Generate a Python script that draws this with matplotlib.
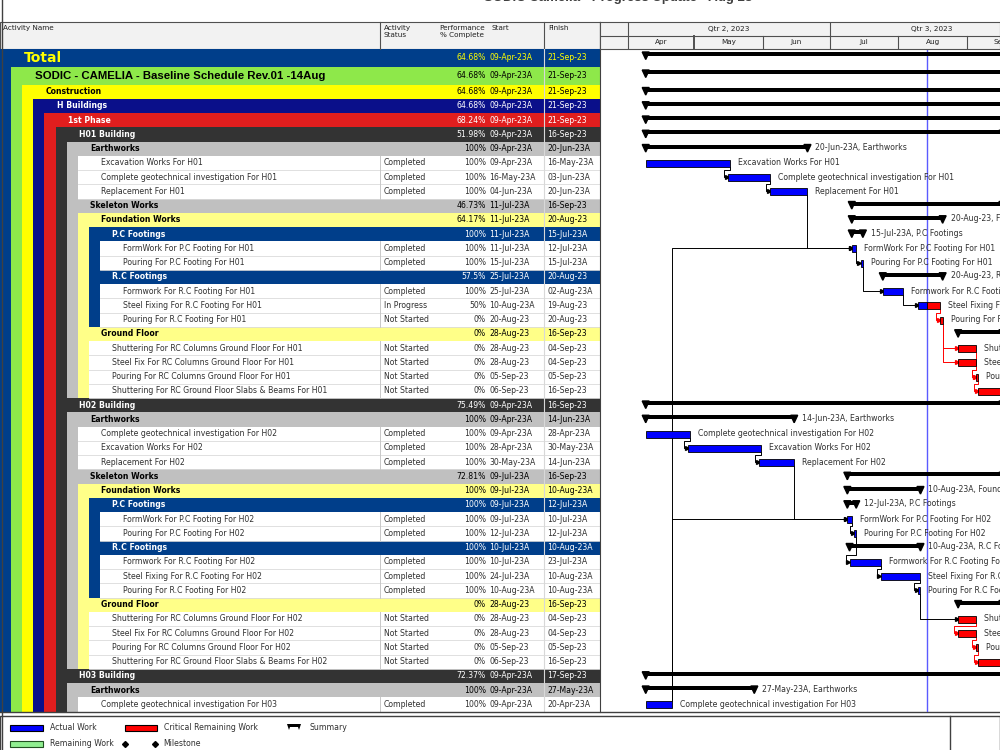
import datetime as dt
import matplotlib
matplotlib.use("Agg")
import matplotlib.pyplot as plt
import matplotlib.dates as mdates
from matplotlib.patches import Rectangle, Polygon

NARROW = ["Liberation Sans Narrow", "DejaVu Sans"]
plt.rcParams["font.family"] = NARROW
FS = 5.6  # body text size

# ---- schedule rows as printed by P6 ----
names = [
    "Total",
    "SODIC - CAMELIA - Baseline Schedule Rev.01 -14Aug",
    "Construction",
    "H Buildings",
    "1st Phase",
    "H01 Building",
    "Earthworks",
    "Excavation Works For H01",
    "Complete geotechnical investigation For H01",
    "Replacement For H01",
    "Skeleton Works",
    "Foundation Works",
    "P.C Footings",
    "FormWork For P.C Footing For H01",
    "Pouring For P.C Footing For H01",
    "R.C Footings",
    "Formwork For R.C Footing For H01",
    "Steel Fixing For R.C Footing For H01",
    "Pouring For R.C Footing For H01",
    "Ground Floor",
    "Shuttering For RC Columns Ground Floor For H01",
    "Steel Fix For RC Columns Ground Floor For H01",
    "Pouring For RC Columns Ground Floor For H01",
    "Shuttering For RC Ground Floor Slabs & Beams For H01",
    "H02 Building",
    "Earthworks",
    "Complete geotechnical investigation For H02",
    "Excavation Works For H02",
    "Replacement For H02",
    "Skeleton Works",
    "Foundation Works",
    "P.C Footings",
    "FormWork For P.C Footing For H02",
    "Pouring For P.C Footing For H02",
    "R.C Footings",
    "Formwork For R.C Footing For H02",
    "Steel Fixing For R.C Footing For H02",
    "Pouring For R.C Footing For H02",
    "Ground Floor",
    "Shuttering For RC Columns Ground Floor For H02",
    "Steel Fix For RC Columns Ground Floor For H02",
    "Pouring For RC Columns Ground Floor For H02",
    "Shuttering For RC Ground Floor Slabs & Beams For H02",
    "H03 Building",
    "Earthworks",
    "Complete geotechnical investigation For H03",
]
levels = [0, 1, 2, 3, 4, 5, 6, 7, 7, 7, 6, 7, 8, 9, 9, 8, 9, 9, 9, 7, 8, 8, 8, 8,
          5, 6, 7, 7, 7, 6, 7, 8, 9, 9, 8, 9, 9, 9, 7, 8, 8, 8, 8,
          5, 6, 7]
status = ["", "", "", "", "", "", "",
          "Completed", "Completed", "Completed", "", "", "",
          "Completed", "Completed", "",
          "Completed", "In Progress", "Not Started", "",
          "Not Started", "Not Started", "Not Started", "Not Started",
          "", "", "Completed", "Completed", "Completed", "", "", "",
          "Completed", "Completed", "",
          "Completed", "Completed", "Completed", "",
          "Not Started", "Not Started", "Not Started", "Not Started",
          "", "", "Completed"]
pct = ["64.68%", "64.68%", "64.68%", "64.68%", "68.24%", "51.98%",
       "100%", "100%", "100%", "100%", "46.73%", "64.17%",
       "100%", "100%", "100%", "57.5%", "100%", "50%", "0%",
       "0%", "0%", "0%", "0%", "0%",
       "75.49%", "100%", "100%", "100%", "100%", "72.81%",
       "100%", "100%", "100%", "100%", "100%", "100%", "100%", "100%",
       "0%", "0%", "0%", "0%", "0%",
       "72.37%", "100%", "100%"]
starts = ["09-Apr-23A", "09-Apr-23A", "09-Apr-23A", "09-Apr-23A", "09-Apr-23A",
          "09-Apr-23A", "09-Apr-23A", "09-Apr-23A", "16-May-23A", "04-Jun-23A",
          "11-Jul-23A", "11-Jul-23A", "11-Jul-23A", "11-Jul-23A", "15-Jul-23A",
          "25-Jul-23A", "25-Jul-23A", "10-Aug-23A", "20-Aug-23", "28-Aug-23",
          "28-Aug-23", "28-Aug-23", "05-Sep-23", "06-Sep-23",
          "09-Apr-23A", "09-Apr-23A", "09-Apr-23A", "28-Apr-23A", "30-May-23A",
          "09-Jul-23A", "09-Jul-23A", "09-Jul-23A", "09-Jul-23A", "12-Jul-23A",
          "10-Jul-23A", "10-Jul-23A", "24-Jul-23A", "10-Aug-23A", "28-Aug-23",
          "28-Aug-23", "28-Aug-23", "05-Sep-23", "06-Sep-23",
          "09-Apr-23A", "09-Apr-23A", "09-Apr-23A"]
finishes = ["21-Sep-23", "21-Sep-23", "21-Sep-23", "21-Sep-23", "21-Sep-23",
            "16-Sep-23", "20-Jun-23A", "16-May-23A", "03-Jun-23A", "20-Jun-23A",
            "16-Sep-23", "20-Aug-23", "15-Jul-23A", "12-Jul-23A", "15-Jul-23A",
            "20-Aug-23", "02-Aug-23A", "19-Aug-23", "20-Aug-23", "16-Sep-23",
            "04-Sep-23", "04-Sep-23", "05-Sep-23", "16-Sep-23",
            "16-Sep-23", "14-Jun-23A", "28-Apr-23A", "30-May-23A", "14-Jun-23A",
            "16-Sep-23", "10-Aug-23A", "12-Jul-23A", "10-Jul-23A", "12-Jul-23A",
            "10-Aug-23A", "23-Jul-23A", "10-Aug-23A", "10-Aug-23A", "16-Sep-23",
            "04-Sep-23", "04-Sep-23", "05-Sep-23", "16-Sep-23",
            "17-Sep-23", "27-May-23A", "20-Apr-23A"]
# (predecessor row, successor row)
links = [(7, 8), (8, 9), (9, 13), (45, 13), (13, 14), (14, 16), (16, 17), (17, 18),
         (18, 20), (18, 21), (20, 22), (21, 22), (22, 23),
         (26, 27), (27, 28), (28, 32), (45, 32), (32, 33), (33, 35), (35, 36),
         (36, 37), (37, 39), (39, 40), (40, 41), (41, 42)]
data_date = dt.datetime(2023, 8, 14)
month_labels = ["Apr", "May", "Jun", "Jul", "Aug", "Sep"]
qtr_labels = ["Qtr 2, 2023", "Qtr 3, 2023"]

# WBS band colours (background, text) per level
band = {0: ("#003E8A", "#FFFF00"), 1: ("#8EE84A", "black"), 2: ("#FFFF00", "black"),
        3: ("#0A0F8A", "white"), 4: ("#E01E1E", "white"), 5: ("#333333", "white"),
        6: ("#C0C0C0", "black"), 7: ("#FFFF88", "black"), 8: ("#003E8A", "white")}


def parse(s):
    return mdates.date2num(dt.datetime.strptime(s.rstrip("A"), "%d-%b-%y"))


start_num = [parse(s) for s in starts]
end_num = [parse(s) + 1 for s in finishes]   # end of finish day
dd = mdates.date2num(data_date)

# ---- layout (pixels) ----
W = 11.1          # indent per WBS level
TABLE_R = 600
heights = [18, 17.5] + [14.25] * (len(names) - 2)
tops = []
y = 49
for h in heights:
    tops.append(y)
    y += h
BODY_B = y
centers = [t + h / 2 for t, h in zip(tops, heights)]

fig = plt.figure(figsize=(10, 7.5), dpi=100)
ax0 = fig.add_axes([0, 0, 1, 1])
ax0.set_xlim(0, 1000)
ax0.set_ylim(750, 0)
ax0.axis("off")

# title (cut off by the page top)
ax0.text(618, -1.5, "SODIC Camelia - Progress Update - Aug 23", ha="center", va="center",
         fontsize=9.5, weight="bold", color="#404040", family=["Liberation Sans", "DejaVu Sans"])
ax0.plot([1.5, 1.5], [0, 750], color="#404040", lw=1)

# table header
ax0.add_patch(Rectangle((0, 22), TABLE_R, 27, fc="#F2F2F2", ec="#505050", lw=0.8))
for xc in (380, 544):
    ax0.plot([xc, xc], [22, 49], color="#505050", lw=0.8)
hdr = dict(fontsize=5.2, va="top", color="#202020", linespacing=1.15)
ax0.text(3, 25, "Activity Name", **hdr)
ax0.text(384, 25, "Activity\nStatus", **hdr)
ax0.text(462, 25, "Performance\n% Complete", ha="center", **hdr)
ax0.text(491, 25, "Start", **hdr)
ax0.text(548, 25, "Finish", **hdr)

# table rows
for i, name in enumerate(names):
    L = levels[i]
    x0 = L * W
    top, h, yc = tops[i], heights[i], centers[i]
    task = status[i] != ""
    if task:
        bg, fg = "white", "#303030"
    else:
        bg, fg = band[L]
        # stripe down the left side of all children
        j = i + 1
        while j < len(names) and levels[j] > L:
            j += 1
        if j > i + 1:
            ax0.add_patch(Rectangle((x0, top + h), W, tops[j - 1] + heights[j - 1] - top - h,
                                    fc=bg, ec="none"))
    ax0.add_patch(Rectangle((x0, top), TABLE_R - x0, h, fc=bg, ec="none"))
    if task:
        ax0.plot([x0, TABLE_R], [top + h, top + h], color="#DADADA", lw=0.6)
        ax0.plot([380, 380], [top, top + h], color="#C8C8C8", lw=0.7)
        ax0.text(384, yc, status[i], fontsize=FS, va="center", color=fg)

    if i == 0:
        ax0.text(x0 + 24, yc, name, fontsize=10, weight="bold", va="center", color=fg)
    elif i == 1:
        ax0.text(x0 + 24, yc, name, fontsize=8.2, weight="bold", va="center", color=fg,
                 family=["Liberation Sans", "DejaVu Sans"])
    else:
        ax0.text(x0 + 23.5, yc, name, fontsize=FS, va="center", color=fg,
                 weight="normal" if task else "bold")
    ax0.text(486, yc, pct[i], fontsize=FS, va="center", ha="right", color=fg)
    ax0.text(489, yc, starts[i], fontsize=FS, va="center", color=fg)
    ax0.text(547, yc, finishes[i], fontsize=FS, va="center", color=fg)

ax0.plot([544, 544], [49, BODY_B], color="#D8D8D8", lw=0.8)
ax0.plot([0, 1000], [BODY_B, BODY_B], color="#404040", lw=1)
ax0.plot([TABLE_R, TABLE_R], [22, BODY_B], color="#404040", lw=0.8)

# legend strip
ax0.add_patch(Rectangle((0, 716), 1000, 36, fc="white", ec="#404040", lw=1))
ax0.plot([950, 950], [716, 750], color="#404040", lw=1)
lg = dict(fontsize=FS, va="center", color="#303030")
ax0.add_patch(Rectangle((10, 724.5), 33, 6, fc="#0000FF", ec="black", lw=0.8))
ax0.text(50, 728, "Actual Work", **lg)
ax0.add_patch(Rectangle((125, 724.5), 32, 6, fc="#FF0000", ec="black", lw=0.8))
ax0.text(164, 728, "Critical Remaining Work", **lg)
ax0.add_patch(Rectangle((288, 724), 12, 2.5, fc="black", ec="none"))
ax0.add_patch(Polygon([(287, 724), (291, 724), (289, 730)], fc="black"))
ax0.add_patch(Polygon([(297, 724), (301, 724), (299, 730)], fc="black"))
ax0.text(309, 728, "Summary", **lg)
ax0.add_patch(Rectangle((10, 741), 33, 6, fc="#90EE90", ec="#205020", lw=0.8))
ax0.text(50, 744, "Remaining Work", **lg)
ax0.plot([125, 155], [744, 744], ls="none", marker="D", ms=3, color="black")
ax0.text(163, 744, "Milestone", **lg)

# ---- gantt ----
px_day = (967 - 628) / (mdates.date2num(dt.datetime(2023, 9, 1)) - mdates.date2num(dt.datetime(2023, 4, 1)))
apr1 = mdates.date2num(dt.datetime(2023, 4, 1))
xmin = apr1 - (628 - TABLE_R) / px_day
xmax = apr1 + (1000 - 628) / px_day
dpp = 1 / px_day  # days per pixel

gx = fig.add_axes([TABLE_R / 1000, 1 - BODY_B / 750, 1 - TABLE_R / 1000, (BODY_B - 49) / 750])
gx.set_xlim(xmin, xmax)
gx.set_ylim(BODY_B, 49)
gx.axis("off")

gx.axvline(dd, color="#5A5AFF", lw=1, zorder=1)

for i, name in enumerate(names):
    s, e = start_num[i], end_num[i]
    top, yc = tops[i], centers[i]
    if status[i] == "":
        gx.barh(top + 5, e - s, left=s, height=4, color="black", zorder=3)
        for xe in (s, e):
            gx.fill([xe - 3.5 * dpp, xe + 3.5 * dpp, xe], [top + 3, top + 3, top + 10.5],
                    color="black", zorder=3)
        if i > 5:
            gx.text(e + 8 * dpp, top + 6, f"{finishes[i]}, {name}", fontsize=FS,
                    va="center", color="#303030", zorder=4)
    else:
        done_to = e if finishes[i].endswith("A") else (dd if starts[i].endswith("A") else s)
        if done_to > s:
            gx.barh(yc + 0.5, done_to - s, left=s, height=7, color="#0000FF",
                    edgecolor="black", lw=0.6, zorder=3)
        if done_to < e:
            gx.barh(yc + 0.5, e - done_to, left=done_to, height=7, color="#FF0000",
                    edgecolor="black", lw=0.6, zorder=3)
        gx.text(e + 8 * dpp, yc, name, fontsize=FS, va="center", color="#303030", zorder=4)

# relationship lines
for p, s in links:
    xf, xs = end_num[p], start_num[s]
    yp, ys = centers[p], centers[s]
    col = "black" if finishes[p].endswith("A") else "#FF0000"
    if xs >= xf + 3 * dpp:
        y0 = yp + 4 if ys > yp else yp - 3
        px_, py_ = [xf, xf, xs], [y0, ys, ys]
    else:
        ym = ys - 7
        xb = xs - 4 * dpp
        px_, py_ = [xf, xf, xb, xb, xs], [yp + 4, ym, ym, ys, ys]
    gx.plot(px_, py_, color=col, lw=0.7, zorder=2)
    gx.plot(xs - 1.2 * dpp, ys, marker=">", ms=2.8, color=col, zorder=2)

# timescale header, shares the gantt date axis
hx = fig.add_axes([TABLE_R / 1000, 1 - 49 / 750, 1 - TABLE_R / 1000, 27 / 750], sharex=gx)
hx.set_ylim(0, 2)
hx.set_facecolor("#F2F2F2")
for sp in hx.spines.values():
    sp.set_color("#505050")
    sp.set_linewidth(0.8)
hx.tick_params(left=False, bottom=False, labelleft=False, labelbottom=False)
hx.axhline(1, color="#505050", lw=0.8)
months = [dt.datetime(2023, m, 1) for m in range(3, 11)]
for k, m in enumerate(months):
    x = mdates.date2num(m)
    hx.plot([x, x], [0, 1], color="#505050", lw=1.4 if m.month == 5 else 0.8)
    if 1 <= k <= len(month_labels):
        xn = mdates.date2num(months[k + 1]) if k + 1 < len(months) else x + 30
        hx.text((x + xn) / 2, 0.5, month_labels[k - 1], ha="center", va="center",
                fontsize=5.2, color="#202020")
qtrs = [dt.datetime(2023, 1, 1), dt.datetime(2023, 4, 1), dt.datetime(2023, 7, 1), dt.datetime(2023, 10, 1)]
for k, q in enumerate(qtrs):
    x = mdates.date2num(q)
    hx.plot([x, x], [1, 2], color="#505050", lw=0.8)
    if 1 <= k <= len(qtr_labels):
        xn = mdates.date2num(qtrs[k + 1])
        hx.text((x + xn) / 2, 1.5, qtr_labels[k - 1], ha="center", va="center",
                fontsize=5.2, color="#202020")
hx.set_xlim(xmin, xmax)

fig.savefig("out.png", dpi=100)
